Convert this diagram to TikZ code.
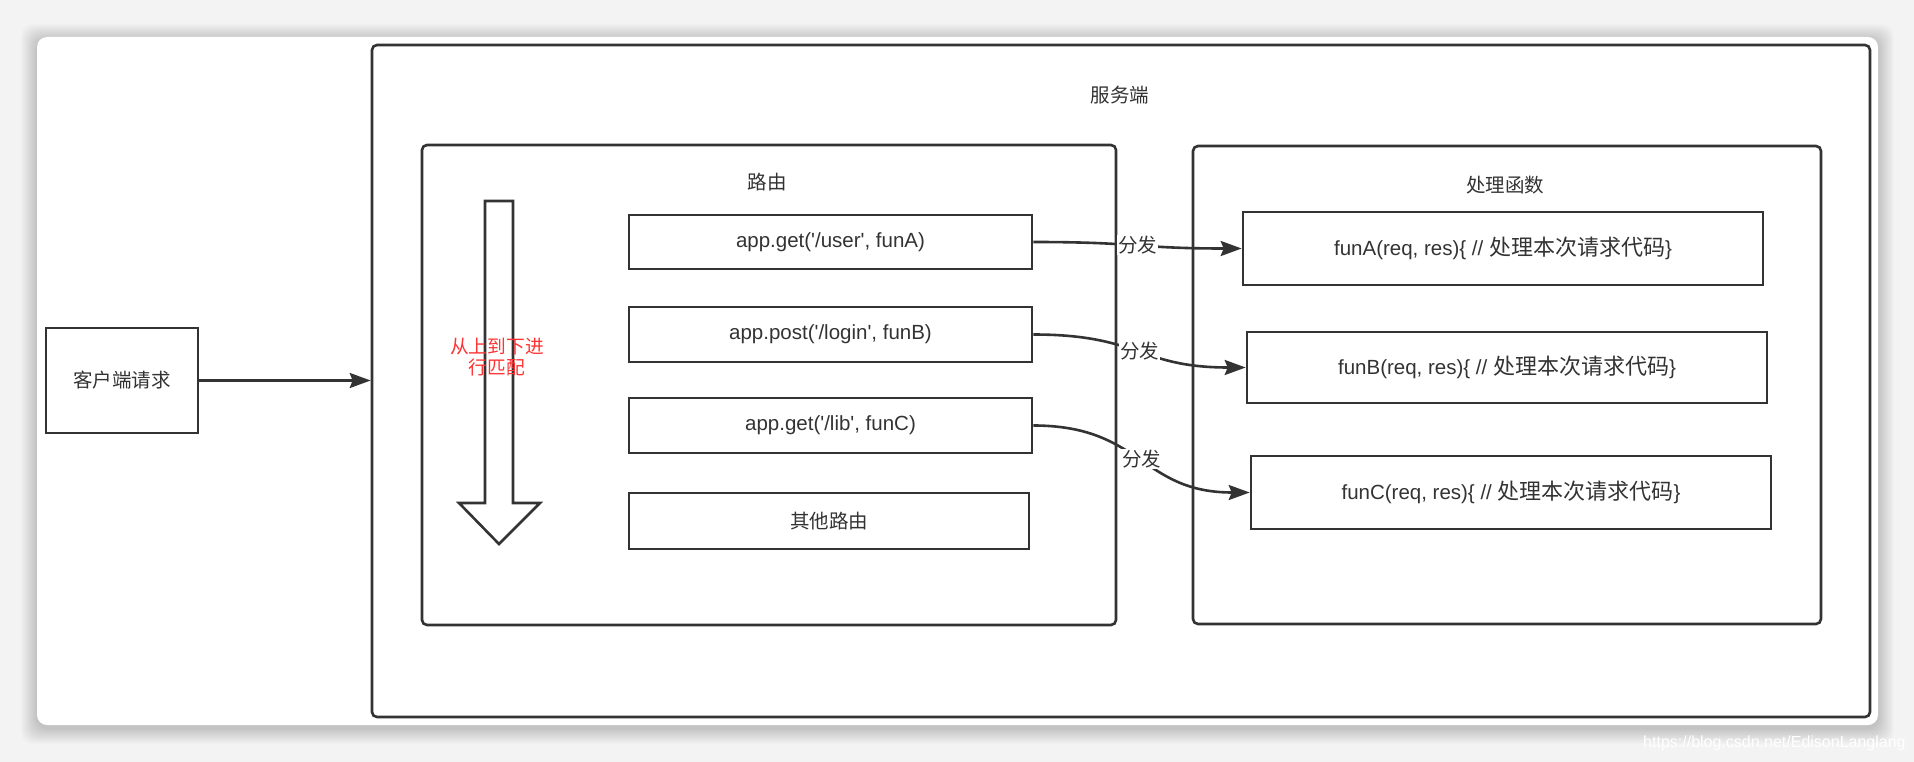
\documentclass[tikz,border=0pt]{standalone}
\usepackage{fontspec}
\setmainfont{Liberation Sans}
\newfontfamily\cjk{Noto Sans CJK SC}
\usetikzlibrary{arrows.meta}
\definecolor{ink}{HTML}{333333}
\definecolor{redtxt}{HTML}{FF3333}
\definecolor{bggray}{HTML}{F3F3F3}
\newcommand\sq{\textquotesingle}
\begin{document}
\begin{tikzpicture}[x=1pt,y=-1pt,
  boxline/.style={draw=ink, line width=2.6pt, fill=white, inner sep=0pt},
  group/.style={boxline, rounded corners=5pt},
  cn/.style={font=\fontsize{19.5}{23}\cjk, text=ink},
  code/.style={font=\fontsize{20.5}{24}\selectfont, text=ink},
  conn/.style={draw=ink, line width=2.6pt, -{Stealth[length=21pt,width=15pt,inset=3pt]}},
  lbl/.style={cn, fill=white, inner sep=1pt}]
\useasboundingbox (0,0) rectangle (1914,762);
\clip (0,0) rectangle (1914,762);
% background and card
\fill[bggray] (0,0) rectangle (1914,762);
\foreach \i in {1,...,16}{
  \fill[black, opacity=0.012, rounded corners=12pt] (37-\i,37-\i+3) rectangle (1878+\i,725+\i+3);
}
\fill[white, rounded corners=10pt] (37,37) rectangle (1878,725);
\node[text=white, font=\fontsize{16}{18}\selectfont, anchor=west, inner sep=0pt] (wm) at (1643,743) {https://blog.csdn.net/EdisonLanglang};
% containers
\node[group, minimum width=1498pt, minimum height=672pt] (server) at (1121,381) {};
\node[group, minimum width=694pt, minimum height=480pt] (router) at (769,385) {};
\node[group, minimum width=628pt, minimum height=478pt] (handler) at (1507,385) {};
\node[cn] (servert) at (1120,95) {服务端};
\node[cn] (routert) at (767,182) {路由};
\node[cn] (handlert) at (1505,185) {处理函数};
% client
\node[boxline, minimum width=152pt, minimum height=105pt, cn] (client) at (122,380.5) {客户端请求};
% route boxes
\node[boxline, minimum width=403pt, minimum height=54pt, code] (r1) at (830.5,242) {app.get(\sq/user\sq, funA)};
\node[boxline, minimum width=403pt, minimum height=55pt, code] (r2) at (830.5,334.5) {app.post(\sq/login\sq, funB)};
\node[boxline, minimum width=403pt, minimum height=55pt, code] (r3) at (830.5,425.5) {app.get(\sq/lib\sq, funC)};
\node[boxline, minimum width=400pt, minimum height=56pt, cn] (r4) at (829,521) {其他路由};
% handler boxes
\node[boxline, minimum width=520pt, minimum height=73pt, code] (fA) at (1503,248.5) {funA(req, res)\{ // {\fontsize{22}{26}\cjk 处理本次请求代码}\}};
\node[boxline, minimum width=520pt, minimum height=71pt, code] (fB) at (1507,367.5) {funB(req, res)\{ // {\fontsize{22}{26}\cjk 处理本次请求代码}\}};
\node[boxline, minimum width=520pt, minimum height=73pt, code] (fC) at (1511,492.5) {funC(req, res)\{ // {\fontsize{22}{26}\cjk 处理本次请求代码}\}};
% hollow down arrow
\draw[ink, line width=2.6pt, fill=white, line join=miter]
  (485,201) -- (513,201) -- (513,503) -- (540,503) -- (499,544) -- (459,503) -- (485,503) -- cycle;
\node[align=center, text=redtxt, font=\fontsize{18.7}{21}\cjk] (order) at (497,357) {从上到下进\\行匹配};
% connectors
\draw[conn] (client.east) -- (client.east -| server.west);
\draw[conn] (r1.east) .. controls +(105,0) and +(-105,0) .. (fA.west) node[midway, lbl] (d1) {分发};
\draw[conn] (r2.east) .. controls +(107,0) and +(-107,0) .. (fB.west) node[midway, lbl] (d2) {分发};
\draw[conn] (r3.east) .. controls +(109,0) and +(-109,0) .. (fC.west) node[midway, lbl] (d3) {分发};
\end{tikzpicture}
\end{document}
